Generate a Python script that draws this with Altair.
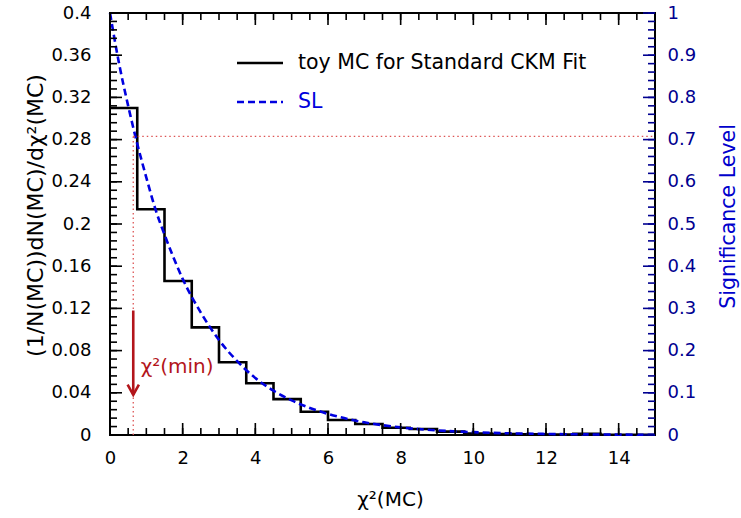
import altair as alt
import pandas as pd

# ---------------- data ----------------
bin_edges = [0.0, 0.75, 1.5, 2.25, 3.0, 3.75, 4.5, 5.25, 6.0, 6.75, 7.5,
             8.25, 9.0, 9.75, 10.5, 11.25, 12.0, 12.75, 13.5, 14.25, 15.0]
hist_values = [0.310, 0.214, 0.146, 0.102, 0.069, 0.049, 0.034, 0.022, 0.0142, 0.0104,
               0.0069, 0.0057, 0.0032, 0.0013, 0.0009, 0.0007, 0.0005, 0.0012, 0.0003, 0.0002]

sl_x = [0.0, 0.25, 0.5, 0.75, 1.0, 1.25, 1.5, 1.75, 2.0, 2.5, 3.0, 3.5, 4.0, 4.5,
        5.0, 5.5, 6.0, 7.0, 8.0, 9.0, 10.0, 11.0, 12.0, 13.0, 14.0, 15.0]
sl_values = [1.0, 0.88, 0.78, 0.69, 0.61, 0.535, 0.475, 0.42, 0.37, 0.29, 0.225, 0.175,
             0.135, 0.105, 0.082, 0.064, 0.05, 0.03, 0.018, 0.011, 0.0067, 0.004,
             0.0025, 0.0015, 0.0009, 0.0006]

chi2_min = 0.64
sl_level_left = 0.283
arrow_top = 0.118
arrow_tip = 0.038
label_pos = [0.845, 0.064]

legend_labels = ["toy MC for Standard CKM Fit", "SL"]
x_title = "χ²(MC)"
y_title = "(1/N(MC))dN(MC)/dχ²(MC)"
y2_title = "Significance Level"
marker_text = "χ²(min)"

x_major = [0, 2, 4, 6, 8, 10, 12, 14]
x_minor = [i * 0.5 for i in range(31)]
yl_major = [round(i * 0.04, 3) for i in range(11)]
yl_minor = [round(i * 0.008, 3) for i in range(51)]
yr_major = [round(i * 0.1, 2) for i in range(11)]
yr_minor = [round(i * 0.02, 2) for i in range(51)]

# ---------------- style ----------------
W, H = 545, 422
FONT = "DejaVu Sans"
RED = "#b3151b"
DOT = "#dd5555"
BLUE = "#0000e0"
NAVY = "#000090"
MAJ, MIN = 12, 7
TW = 1.6

xs = alt.Scale(domain=[0, 15], nice=False, zero=False)


def yl():
    return alt.Scale(domain=[0, 0.4], nice=False, zero=False)


def yr():
    return alt.Scale(domain=[0, 1], nice=False, zero=False)


# ---------------- tick tables (positions only; drawn through the scales) ----------------
xt_rows = ([{"v": v, "len": MIN, "side": "b"} for v in x_minor] +
           [{"v": v, "len": MAJ, "side": "b"} for v in x_major] +
           [{"v": v, "len": MIN, "side": "t"} for v in x_minor] +
           [{"v": v, "len": MAJ, "side": "t"} for v in x_major])
xt_df = pd.DataFrame(xt_rows)
xt_df["y0"] = xt_df["side"].map({"b": 0.0, "t": 0.4})
xt_df["y1"] = xt_df.apply(lambda r: (r["len"] / H * 0.4) if r["side"] == "b"
                          else 0.4 - r["len"] / H * 0.4, axis=1)

ylt_rows = ([{"v": v, "len": MIN} for v in yl_minor] + [{"v": v, "len": MAJ} for v in yl_major])
ylt_df = pd.DataFrame(ylt_rows)
ylt_df["x0"] = 0.0
ylt_df["x1"] = ylt_df["len"] / W * 15

yrt_rows = ([{"v": v, "len": MIN} for v in yr_minor] + [{"v": v, "len": MAJ} for v in yr_major])
yrt_df = pd.DataFrame(yrt_rows)
yrt_df["x0"] = 15.0
yrt_df["x1"] = 15 - yrt_df["len"] / W * 15

# ---------------- tables ----------------
step_df = pd.DataFrame({"x": bin_edges[:-1] + [bin_edges[-1]],
                        "y": hist_values + [hist_values[-1]]})
sl_df = pd.DataFrame({"x": sl_x, "y": sl_values})

# ---------------- layers ----------------
hist = alt.Chart(step_df).mark_line(interpolate="step-after", color="black",
                                    strokeWidth=2.6).encode(
    x=alt.X("x:Q", scale=xs, axis=alt.Axis(
        orient="bottom", values=x_major, format="~g", ticks=False, tickSize=0,
        domain=False, grid=False, labelFont=FONT, labelFontSize=18,
        labelColor="black", labelPadding=14, labelFlush=False,
        title=x_title, titleFont=FONT, titleFontSize=20, titleFontWeight="normal",
        titleColor="black", titleX=280, titleY=64, titleBaseline="middle")),
    y=alt.Y("y:Q", scale=yl(), axis=alt.Axis(
        orient="left", values=yl_major, format="~g", ticks=False, tickSize=0,
        domain=False, grid=False, labelFont=FONT, labelFontSize=18,
        labelColor="black", labelPadding=19, labelFlush=False,
        title=y_title, titleFont=FONT, titleFontSize=22, titleFontWeight="normal",
        titleColor="black", titleAngle=270, titleX=-75, titleY=202,
        titleAlign="center", titleBaseline="middle")),
)

sl = alt.Chart(sl_df).mark_line(interpolate="monotone", color=BLUE, strokeWidth=2.6,
                                strokeDash=[7, 4]).encode(
    x=alt.X("x:Q", scale=xs, axis=None),
    y=alt.Y("y:Q", scale=yr(), axis=alt.Axis(
        orient="right", values=yr_major, format="~g", ticks=False, tickSize=0,
        domain=False, grid=False, labelFont=FONT, labelFontSize=18,
        labelColor=NAVY, labelPadding=12, labelFlush=False,
        title=y2_title, titleFont=FONT, titleFontSize=20.5, titleFontWeight="normal",
        titleColor="#0000cc", titleAngle=270, titleX=73, titleY=203,
        titleAlign="center", titleBaseline="middle")),
)

# inward ticks: rules with both ends given in data units
xt = alt.Chart(xt_df).mark_rule(color="black", strokeWidth=TW).encode(
    x=alt.X("v:Q", scale=xs, axis=None),
    y=alt.Y("y0:Q", scale=yl(), axis=None), y2="y1:Q")
ylt = alt.Chart(ylt_df).mark_rule(color="black", strokeWidth=TW).encode(
    x=alt.X("x0:Q", scale=xs, axis=None), x2="x1:Q",
    y=alt.Y("v:Q", scale=yl(), axis=None))
yrt = alt.Chart(yrt_df).mark_rule(color=NAVY, strokeWidth=TW).encode(
    x=alt.X("x0:Q", scale=xs, axis=None), x2="x1:Q",
    y=alt.Y("v:Q", scale=yr(), axis=None))

hdot = alt.Chart(pd.DataFrame({"x": [chi2_min], "x2": [15.0], "y": [sl_level_left]})).mark_rule(
    color=DOT, strokeWidth=1.3, strokeDash=[1.5, 3]).encode(
    x=alt.X("x:Q", scale=xs, axis=None),
    x2="x2:Q",
    y=alt.Y("y:Q", scale=yl(), axis=None),
)

vdot = alt.Chart(pd.DataFrame({"x": [chi2_min], "y": [0.0], "y2": [sl_level_left]})).mark_rule(
    color=DOT, strokeWidth=1.3, strokeDash=[1.5, 3]).encode(
    x=alt.X("x:Q", scale=xs, axis=None),
    y=alt.Y("y:Q", scale=yl(), axis=None),
    y2="y2:Q",
)

shaft = alt.Chart(pd.DataFrame({"x": [chi2_min], "y": [arrow_top], "y2": [arrow_tip]})).mark_rule(
    color=RED, strokeWidth=2.6).encode(
    x=alt.X("x:Q", scale=xs, axis=None),
    y=alt.Y("y:Q", scale=yl(), axis=None),
    y2="y2:Q",
)

head = alt.Chart(pd.DataFrame({"x": [chi2_min], "y": [arrow_tip]})).mark_point(
    shape="M -0.55 -1 L 0 0 L 0.55 -1", filled=False, color=RED, strokeWidth=2.6,
    size=420, opacity=1).encode(
    x=alt.X("x:Q", scale=xs, axis=None),
    y=alt.Y("y:Q", scale=yl(), axis=None),
)

mtext = alt.Chart(pd.DataFrame({"x": [label_pos[0]], "y": [label_pos[1]],
                                "t": [marker_text]})).mark_text(
    align="left", baseline="middle", font=FONT, fontSize=20, color=RED).encode(
    x=alt.X("x:Q", scale=xs, axis=None),
    y=alt.Y("y:Q", scale=yl(), axis=None),
    text="t:N",
)

one = pd.DataFrame({"a": [0]})
leg_line1 = alt.Chart(one).mark_rule(color="black", strokeWidth=2.6).encode(
    x=alt.value(127), x2=alt.value(173), y=alt.value(50))
leg_line2 = alt.Chart(one).mark_rule(color=BLUE, strokeWidth=2.6, strokeDash=[7, 4]).encode(
    x=alt.value(127), x2=alt.value(173), y=alt.value(89))
leg_text1 = alt.Chart(pd.DataFrame({"t": [legend_labels[0]]})).mark_text(
    align="left", baseline="middle", font=FONT, fontSize=20.5, color="black").encode(
    x=alt.value(188), y=alt.value(50), text="t:N")
leg_text2 = alt.Chart(pd.DataFrame({"t": [legend_labels[1]]})).mark_text(
    align="left", baseline="middle", font=FONT, fontSize=20.5, color="#0000dd").encode(
    x=alt.value(188), y=alt.value(89), text="t:N")

chart = alt.layer(
    hist, sl, hdot, vdot, shaft, head, mtext,
    leg_line1, leg_line2, leg_text1, leg_text2, xt, ylt, yrt,
).resolve_scale(y="independent").resolve_axis(x="independent", y="independent").properties(
    width=W, height=H,
    autosize=alt.AutoSizeParams(type="none"),
    padding={"left": 110, "top": 13, "right": 86, "bottom": 83},
).configure_view(stroke="black", strokeWidth=2)

chart.save("out.html", embed_options={"renderer": "svg", "actions": False})
